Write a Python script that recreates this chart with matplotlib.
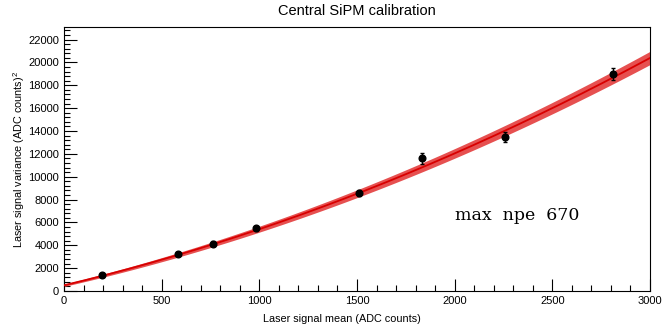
import numpy as np
import matplotlib
matplotlib.use("Agg")
import matplotlib.pyplot as plt
from matplotlib.ticker import MultipleLocator

plt.rcParams['font.family'] = ['Liberation Sans', 'DejaVu Sans']

# measured points: laser signal mean vs variance
mean_adc = [195, 585, 765, 985, 1510, 1835, 2260, 2810]
var_adc = [1400, 3200, 4150, 5500, 8600, 11600, 13500, 19000]
mean_err = [8, 8, 8, 8, 8, 8, 8, 8]
var_err = [150, 180, 200, 220, 250, 450, 450, 550]

# quadratic fit: var = p0 + p1*x + p2*x^2
p0, p1, p2 = 500.0, 4.05, 8.6e-4
# error band half-width grows with x
band0, band1 = 100.0, 0.16

fig = plt.figure(figsize=(6.62, 3.29), dpi=100)
ax = fig.add_axes([64 / 662, 1 - 291 / 329, 586 / 662, 264 / 329])

xf = np.linspace(0, 3000, 300)
yf = p0 + p1 * xf + p2 * xf ** 2
hw = band0 + band1 * xf
ax.fill_between(xf, yf - hw, yf + hw, color='#e65050', lw=0, zorder=2)
ax.plot(xf, yf, color='#d80000', lw=1.3, zorder=3)

ax.errorbar(mean_adc, var_adc, xerr=mean_err, yerr=var_err, fmt='o', color='black',
            ms=4.8, elinewidth=1, capsize=1.5, zorder=4)

ax.set_xlim(0, 3000)
ax.set_ylim(0, 23100)
ax.xaxis.set_major_locator(MultipleLocator(500))
ax.xaxis.set_minor_locator(MultipleLocator(100))
ax.yaxis.set_major_locator(MultipleLocator(2000))
ax.yaxis.set_minor_locator(MultipleLocator(400))
ax.tick_params(which='both', direction='in', labelsize=8, width=0.8)
ax.tick_params(which='major', length=9)
ax.tick_params(which='minor', length=4.5)
ax.tick_params(axis='x', which='both', bottom=True, top=False)
ax.tick_params(axis='y', which='both', left=True, right=False)
for s in ax.spines.values():
    s.set_linewidth(0.8)

ax.set_xlabel('Laser signal mean (ADC counts)', fontsize=7.8)
ax.xaxis.set_label_coords((342 - 64) / 586, -23 / 264)
ax.set_ylabel('Laser signal variance (ADC counts)$^{\\mathregular{2}}$', fontsize=7.8)
ax.yaxis.set_label_coords(-37 / 586, 0.5)
fig.text(357 / 662, 1 - 11 / 329, 'Central SiPM calibration', ha='center', va='center', fontsize=10.5)

ax.text(2002, 6650, 'max  npe  670', family=['DejaVu Serif'], fontsize=12.5, va='center')

fig.savefig('out.png', dpi=100)
